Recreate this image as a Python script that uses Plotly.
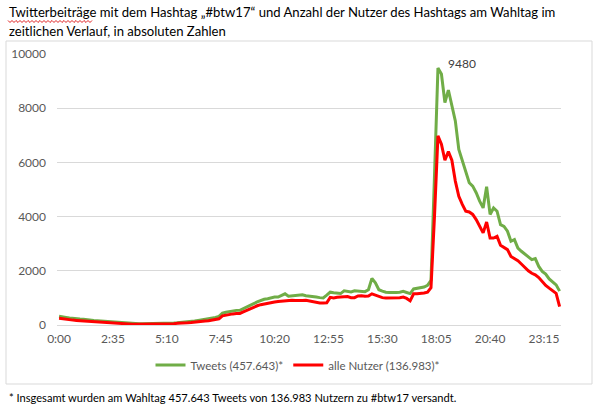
import plotly.graph_objects as go

# time of day in minutes (10-minute steps, 0:00 .. 24:00)
minutes = list(range(0, 1441, 10))

tick_minutes = [0, 155, 310, 465, 620, 775, 930, 1085, 1240, 1395]
tick_labels = ["0:00", "2:35", "5:10", "7:45", "10:20", "12:55", "15:30", "18:05", "20:40", "23:15"]

tweets = [
    320, 290, 280, 260, 240, 230, 220, 210, 190, 180, 170, 160,
    150, 140, 130, 110, 100, 100, 90, 80, 70, 60, 60, 50,
    50, 50, 50, 50, 50, 60, 60, 60, 70, 70, 80, 90,
    100, 110, 130, 150, 170, 190, 200, 220, 250, 280, 320, 440,
    470, 500, 530, 540, 545, 600, 665, 730, 790, 850, 910, 950,
    970, 1000, 1030, 1030, 1080, 1150, 1060, 1070, 1090, 1100, 1115, 1080,
    1055, 1040, 1030, 1010, 1000, 1100, 1210, 1190, 1170, 1160, 1260, 1230,
    1220, 1260, 1250, 1220, 1230, 1300, 1720, 1560, 1300, 1250, 1210, 1200,
    1190, 1200, 1210, 1240, 1200, 1160, 1330, 1350, 1370, 1400, 1460, 1650,
    5500, 9480, 9260, 8210, 8670, 8030, 7530, 6480, 6050, 5620, 5250, 5125,
    4880, 4570, 4320, 5100, 4080, 4320, 4200, 3700, 3640, 3460, 3090, 3150,
    2840, 2720, 2620, 2490, 2410, 2450, 2160, 1980, 1880, 1700, 1600, 1480,
    1250,
]

users = [
    250, 230, 200, 190, 180, 170, 160, 150, 140, 130, 120, 110,
    100, 90, 80, 70, 60, 50, 40, 40, 30, 30, 30, 30,
    30, 30, 30, 30, 30, 40, 40, 40, 50, 50, 60, 60,
    70, 80, 90, 110, 120, 140, 150, 160, 180, 200, 230, 340,
    370, 390, 410, 420, 425, 480, 545, 600, 665, 710, 750, 780,
    810, 830, 850, 870, 885, 900, 910, 910, 900, 890, 900, 910,
    880, 850, 830, 810, 810, 820, 1020, 1000, 1020, 1030, 1040, 1050,
    1010, 1010, 1070, 1080, 1060, 1070, 1150, 1100, 1060, 1010, 1000, 1000,
    990, 990, 1010, 1030, 980, 890, 1150, 1150, 1160, 1180, 1210, 1380,
    4000, 6980, 6670, 6080, 6400, 6080, 5310, 4750, 4450, 4200, 4170, 4080,
    3890, 3640, 3400, 3800, 3210, 3210, 3270, 2940, 2870, 2780, 2530, 2450,
    2370, 2250, 2120, 2000, 1910, 1850, 1750, 1600, 1460, 1360, 1260, 1170,
    680,
]

peak_label = "9480"
series_names = ["Tweets (457.643)*", "alle Nutzer (136.983)*"]
title_lines = [
    "Twitterbeiträge mit dem Hashtag „#btw17“ und Anzahl der Nutzer des Hashtags am Wahltag im",
    "zeitlichen Verlauf, in absoluten Zahlen",
]
footnote = "* Insgesamt wurden am Wahltag 457.643 Tweets von 136.983 Nutzern zu #btw17 versandt."

FONT = "Lato, 'Open Sans', sans-serif"
W, H = 597, 408
L, R, T, B = 57, 36, 54, 83
PW, PH = W - L - R, H - T - B


def px(xp):
    return (xp - L) / PW


def py(yp):
    return (H - B - yp) / PH


fig = go.Figure()
fig.add_trace(go.Scatter(x=minutes, y=tweets, mode="lines", name=series_names[0],
                         line=dict(color="#70AD47", width=3)))
fig.add_trace(go.Scatter(x=minutes, y=users, mode="lines", name=series_names[1],
                         line=dict(color="#FF0000", width=3)))

peak_i = tweets.index(max(tweets))
annotations = [
    dict(x=minutes[peak_i], y=tweets[peak_i], xref="x", yref="y", text=peak_label,
         showarrow=False, xanchor="left", yanchor="middle", xshift=8, yshift=5,
         font=dict(family=FONT, size=12, color="#404040")),
    dict(x=px(7), y=py(12), xref="paper", yref="paper", text=title_lines[0],
         showarrow=False, xanchor="left", yanchor="middle",
         font=dict(family=FONT, size=13.1, color="#000000")),
    dict(x=px(7), y=py(31), xref="paper", yref="paper", text=title_lines[1],
         showarrow=False, xanchor="left", yanchor="middle",
         font=dict(family=FONT, size=13.1, color="#000000")),
    dict(x=px(7), y=py(397), xref="paper", yref="paper", text=footnote,
         showarrow=False, xanchor="left", yanchor="middle",
         font=dict(family=FONT, size=11.1, color="#000000")),
]

# wavy spell-check underline under the first word
zig = []
xx = 8.0
k = 0
while xx <= 93:
    yy = 20.5 if k % 2 == 0 else 22.5
    zig.append((px(xx), py(yy)))
    xx += 2.0
    k += 1
path = "M " + " L ".join(f"{a:.5f},{b:.5f}" for a, b in zig)

shapes = [
    dict(type="rect", xref="paper", yref="paper", x0=px(6), x1=px(592), y0=py(384), y1=py(41),
         line=dict(color="#D9D9D9", width=1), fillcolor="rgba(0,0,0,0)", layer="below"),
    dict(type="path", xref="paper", yref="paper", path=path,
         line=dict(color="#E02020", width=1)),
]

fig.update_layout(
    width=W, height=H,
    margin=dict(l=L, r=R, t=T, b=B, pad=0, autoexpand=False),
    paper_bgcolor="white", plot_bgcolor="white",
    font=dict(family=FONT, size=12, color="#595959"),
    showlegend=True,
    hovermode=False,
    legend=dict(orientation="h", x=px(298), xanchor="center", y=py(365), yanchor="middle",
                font=dict(family=FONT, size=11.5, color="#595959"), itemwidth=30,
                bgcolor="rgba(0,0,0,0)", tracegroupgap=0),
    annotations=annotations,
    shapes=shapes,
)
fig.update_xaxes(range=[-6, 1444], tickmode="array", tickvals=tick_minutes, ticktext=tick_labels,
                 showgrid=False, zeroline=False, showline=True, linecolor="#D9D9D9", linewidth=1,
                 ticks="", ticklabelstandoff=3,
                 tickfont=dict(family=FONT, size=12, color="#595959"), automargin=False)
fig.update_yaxes(range=[0, 10000], dtick=2000, tickformat="d", showgrid=True, gridcolor="#D9D9D9",
                 gridwidth=1, zeroline=False, showline=False, ticks="", ticklabelstandoff=10,
                 tickfont=dict(family=FONT, size=12, color="#595959"), automargin=False)

fig.write_html("out.html", config={"displayModeBar": False},
               post_script="document.body.style.margin='0';document.body.style.padding='0';")
